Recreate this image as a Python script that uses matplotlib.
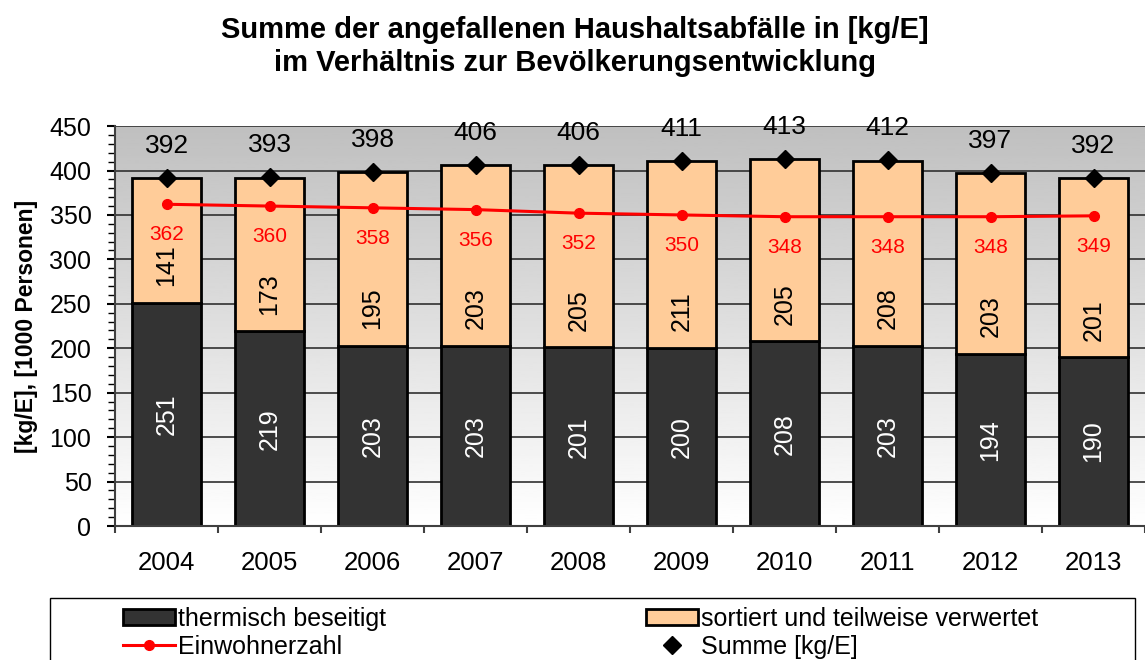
import numpy as np
import matplotlib.pyplot as plt
from matplotlib.lines import Line2D
from matplotlib.patches import Patch, Rectangle

plt.rcParams['font.family'] = ['Liberation Sans', 'DejaVu Sans']

years = ['2004', '2005', '2006', '2007', '2008', '2009', '2010', '2011', '2012', '2013']
thermisch = [251, 219, 203, 203, 201, 200, 208, 203, 194, 190]
sortiert = [141, 173, 195, 203, 205, 211, 205, 208, 203, 201]
summe = [392, 393, 398, 406, 406, 411, 413, 412, 397, 392]
einwohner = [362, 360, 358, 356, 352, 350, 348, 348, 348, 349]

x = np.arange(len(years))

fig = plt.figure(figsize=(11.45, 6.6), dpi=100)
ax = fig.add_axes([0.1005, 0.203, 0.8995, 0.606])

# Hintergrund mit Verlauf (oben grau, unten weiss)
grad = np.linspace(1.0, 0.75, 256).reshape(-1, 1)
ax.imshow(grad, cmap='gray', vmin=0, vmax=1, aspect='auto', origin='lower',
          extent=[-0.5, len(years) - 0.5, 0, 450], zorder=0)

ax.set_xlim(-0.5, len(years) - 0.5)
ax.set_ylim(0, 450)

ax.set_yticks(np.arange(0, 451, 50))
ax.set_yticks(np.arange(0, 451, 10), minor=True)
ax.yaxis.grid(True, which='major', color='#303030', linewidth=1.2, zorder=1)
ax.set_axisbelow(True)

w = 0.67
ax.bar(x, thermisch, width=w, color='#333333', edgecolor='black', linewidth=2, zorder=2)
ax.bar(x, sortiert, width=w, bottom=thermisch, color='#FFCC99', edgecolor='black', linewidth=2, zorder=2)

ax.plot(x, einwohner, color='red', linewidth=2.2, marker='o', markersize=7, zorder=3)
ax.plot(x, summe, linestyle='none', color='black', marker='D', markersize=9, zorder=4)

for i in range(len(years)):
    ax.text(x[i], thermisch[i] / 2, str(thermisch[i]), rotation=90, ha='center', va='center',
            color='white', fontsize=18, zorder=5)
    ax.annotate(str(sortiert[i]), (x[i], thermisch[i]), xytext=(0, 27), textcoords='offset points',
                rotation=90, ha='center', va='center', color='black', fontsize=18, zorder=5)
    ax.annotate(str(einwohner[i]), (x[i], einwohner[i]), xytext=(0, -22), textcoords='offset points',
                ha='center', va='center', color='red', fontsize=15, zorder=5)
    ax.annotate(str(summe[i]), (x[i], summe[i]), xytext=(0, 23), textcoords='offset points',
                ha='center', va='center', color='black', fontsize=19, zorder=5)

ax.set_xticks(x)
ax.set_xticklabels(years, fontsize=18.5)
ax.set_xticks(np.arange(-0.5, len(years), 1), minor=True)
ax.tick_params(axis='x', which='major', length=0, pad=18)
ax.tick_params(axis='x', which='minor', length=5, width=1.5, color='#404040')
ax.tick_params(axis='y', which='major', labelsize=18, length=6, width=1.5, pad=11)
ax.tick_params(axis='y', which='minor', length=5, width=1)

for s in ['top', 'right']:
    ax.spines[s].set_visible(False)
ax.spines['left'].set_color('#404040')
ax.spines['bottom'].set_color('#404040')
ax.spines['left'].set_linewidth(1.5)
ax.spines['bottom'].set_linewidth(1.5)

ax.set_ylabel('[kg/E], [1000 Personen]', fontsize=16.5, fontweight='bold', labelpad=8)

fig.suptitle('Summe der angefallenen Haushaltsabfälle in [kg/E]\nim Verhältnis zur Bevölkerungsentwicklung',
             fontsize=21, fontweight='bold', x=0.502, y=0.975, va='top', linespacing=1.2)

# Legende: Rahmen separat, Eintraege ohne Rahmen
fig.patches.append(Rectangle((50 / 1145, -0.05), 1085 / 1145, 0.05 + 62 / 660,
                             transform=fig.transFigure, facecolor='white',
                             edgecolor='black', linewidth=1, zorder=0))

handles = [
    Patch(facecolor='#333333', edgecolor='black', linewidth=2),
    Line2D([], [], color='red', linewidth=2.2, marker='o', markersize=7),
    Patch(facecolor='#FFCC99', edgecolor='black', linewidth=2),
    Line2D([], [], color='black', linestyle='none', marker='D', markersize=9),
]
labels = ['thermisch beseitigt', 'Einwohnerzahl', 'sortiert und teilweise verwertet', 'Summe [kg/E]']
leg = fig.legend(handles, labels, ncol=2, loc='upper left',
                 bbox_to_anchor=(123 / 1145, 1 - 607 / 660),
                 fontsize=18, frameon=False, handlelength=2.08, handleheight=0.6,
                 handletextpad=0.12, columnspacing=10.4,
                 borderpad=0, labelspacing=0.15, borderaxespad=0)

fig.savefig('out.png', dpi=100)
